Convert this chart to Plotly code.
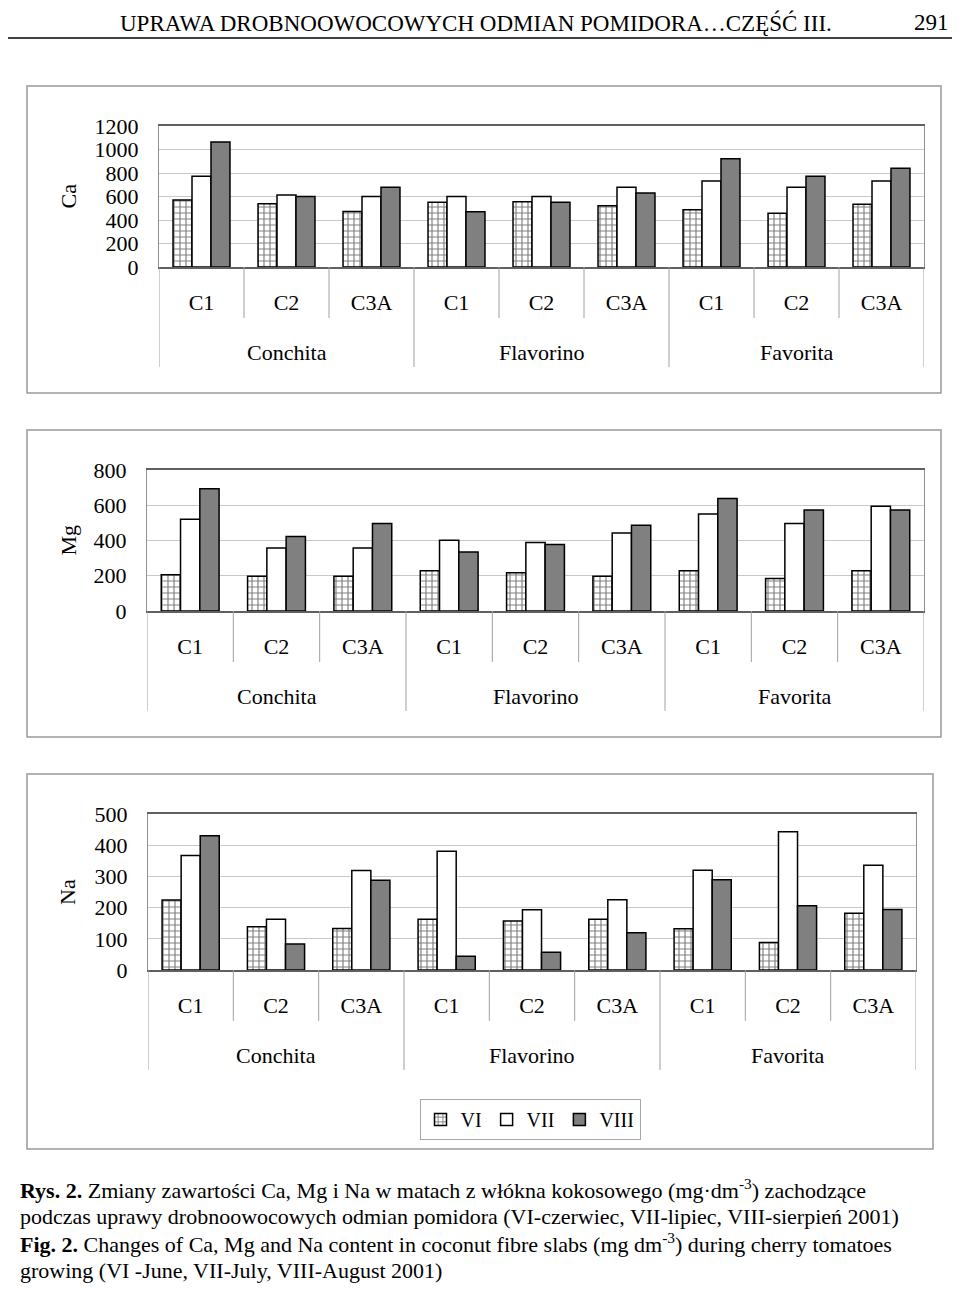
import plotly.graph_objects as go

# ---------------- data ----------------
groups = ["Conchita", "Flavorino", "Favorita"]
combos = ["C1", "C2", "C3A"]
months = ["VI", "VII", "VIII"]

ca_VI = [571, 538, 473, 552, 555, 521, 487, 457, 535]
ca_VII = [773, 613, 599, 599, 599, 678, 731, 678, 731]
ca_VIII = [1064, 599, 678, 471, 552, 630, 922, 773, 840]

mg_VI = [206, 197, 197, 229, 217, 197, 229, 185, 229]
mg_VII = [520, 357, 357, 401, 389, 442, 550, 497, 595]
mg_VIII = [693, 422, 497, 335, 378, 486, 639, 573, 573]

na_VI = [224, 139, 133, 163, 157, 163, 132, 88, 182]
na_VII = [367, 163, 319, 381, 193, 225, 320, 443, 336]
na_VIII = [430, 83, 288, 44, 57, 119, 289, 206, 194]

ca_ticks = [0, 200, 400, 600, 800, 1000, 1200]
mg_ticks = [0, 200, 400, 600, 800]
na_ticks = [0, 100, 200, 300, 400, 500]

header_text = "UPRAWA DROBNOOWOCOWYCH ODMIAN POMIDORA…CZĘŚĆ III."
page_no = "291"
caption_lines = [
    "<b>Rys. 2.</b> Zmiany zawartości Ca, Mg i Na w matach z włókna kokosowego (mg·dm<sup>-3</sup>) zachodzące",
    "podczas uprawy drobnoowocowych odmian pomidora (VI-czerwiec, VII-lipiec, VIII-sierpień 2001)",
    "<b>Fig. 2.</b> Changes of Ca, Mg and Na content in coconut fibre slabs (mg dm<sup>-3</sup>) during cherry tomatoes",
    "growing (VI -June, VII-July, VIII-August 2001)",
]

# ---------------- layout helpers ----------------
OFF = 8  # page body margin
W, H = 960 - 2 * OFF, 1292 - 2 * OFF
FONT = "Liberation Serif, Times New Roman, serif"


def px(x):
    return (x - OFF) / W


def py(y):
    return 1 - (y - OFF) / H


cat_labels = [c for g in groups for c in combos]
pos = list(range(len(cat_labels)))

panels = [
    # name, data, ticks, plot-area px (x0, x1, ytop, ybottom), box px (x0, x1, y0, y1), label x
    ("Ca", (ca_VI, ca_VII, ca_VIII), ca_ticks, (159, 924, 126, 267), (27, 941, 86, 393), 68),
    ("Mg", (mg_VI, mg_VII, mg_VIII), mg_ticks, (147, 924, 470, 611), (27, 941, 430, 737), 68),
    ("Na", (na_VI, na_VII, na_VIII), na_ticks, (148, 916, 814, 970), (27, 933, 774, 1149), 68),
]

styles = [
    dict(color="white", line=dict(color="black", width=1.5),
         pattern=dict(shape="+", fgcolor="black", bgcolor="white", size=6, solidity=0.35)),
    dict(color="white", line=dict(color="black", width=1.5)),
    dict(color="#808080", line=dict(color="black", width=1.5)),
]

fig = go.Figure()
shapes = []
annotations = []

for i, (name, series, ticks, area, box, lab_x) in enumerate(panels):
    sfx = "" if i == 0 else str(i + 1)
    xa, ya = "x" + sfx, "y" + sfx
    for m, vals, st in zip(months, series, styles):
        fig.add_trace(go.Bar(
            x=pos, y=vals, name=m, marker=st, xaxis=xa, yaxis=ya,
            showlegend=(i == 0), legendgroup=m,
        ))
    x0, x1, yt, yb = area
    fig.layout["xaxis" + sfx] = dict(
        domain=[px(x0), px(x1)], anchor=ya, range=[-0.5, len(pos) - 0.5],
        tickmode="array", tickvals=pos, ticktext=cat_labels,
        showgrid=False, zeroline=False, showline=True, mirror=True,
        linecolor="#606060", linewidth=1.5, ticks="", ticklabelstandoff=15,
        tickfont=dict(family=FONT, size=22, color="black"), automargin=False,
    )
    fig.layout["yaxis" + sfx] = dict(
        domain=[py(yb), py(yt)], anchor=xa, range=[ticks[0], ticks[-1]],
        tickmode="array", tickvals=ticks, showgrid=True, gridcolor="#c8c8c8",
        gridwidth=1, zeroline=False, showline=True, mirror=True,
        linecolor="#909090", linewidth=1, ticks="", ticklabelstandoff=15,
        tickfont=dict(family=FONT, size=22, color="black"), automargin=False,
    )
    # panel frame
    bx0, bx1, by0, by1 = box
    shapes.append(dict(type="rect", xref="paper", yref="paper",
                       x0=px(bx0), x1=px(bx1), y0=py(by1), y1=py(by0),
                       line=dict(color="#9a9a9a", width=1.5), fillcolor="rgba(0,0,0,0)"))
    # category dividers
    for k in range(len(pos) + 1):
        bnd = k - 0.5
        long_ = (k % len(combos) == 0)
        shapes.append(dict(type="line", xref=xa, yref="paper",
                           x0=bnd, x1=bnd, y0=py(yb), y1=py(yb + (100 if long_ else 51)),
                           line=dict(color="#a0a0a0", width=1)))
    # group labels
    for gi, g in enumerate(groups):
        annotations.append(dict(text=g, xref=xa, yref="paper",
                                x=gi * len(combos) + (len(combos) - 1) / 2, y=py(yb + 85),
                                showarrow=False, xanchor="center", yanchor="middle",
                                font=dict(family=FONT, size=22, color="black")))
    # element label
    annotations.append(dict(text=name, xref="paper", yref="paper",
                            x=px(lab_x), y=py((yt + yb) / 2), textangle=-90,
                            showarrow=False, xanchor="center", yanchor="middle",
                            font=dict(family=FONT, size=22, color="black")))

# header
annotations.append(dict(text=header_text, xref="paper", yref="paper", x=px(476), y=py(8),
                        showarrow=False, xanchor="center", yanchor="top",
                        font=dict(family=FONT, size=23, color="black")))
annotations.append(dict(text=page_no, xref="paper", yref="paper", x=px(951), y=py(8),
                        showarrow=False, xanchor="right", yanchor="top",
                        font=dict(family=FONT, size=23, color="black")))
shapes.append(dict(type="line", xref="paper", yref="paper", x0=px(8), x1=px(952),
                   y0=py(38), y1=py(38), line=dict(color="#404040", width=2)))

# caption
for yy, line in zip([1189, 1216, 1243, 1270], caption_lines):
    annotations.append(dict(text=line, xref="paper", yref="paper", x=px(18), y=py(yy),
                            showarrow=False, xanchor="left", yanchor="middle",
                            font=dict(family=FONT, size=22, color="black")))

fig.update_layout(
    width=W, height=H, autosize=False,
    margin=dict(l=0, r=0, t=0, b=0, pad=0, autoexpand=False),
    paper_bgcolor="white", plot_bgcolor="white",
    barmode="group", bargap=0.33, bargroupgap=0,
    shapes=shapes, annotations=annotations,
    font=dict(family=FONT, size=20, color="black"),
    legend=dict(orientation="h", x=px(530), xanchor="center", y=py(1099), yanchor="top",
                bordercolor="#a8a8a8", borderwidth=1, bgcolor="white",
                font=dict(family=FONT, size=20, color="black"),
                itemwidth=30, traceorder="normal"),
)

fig.write_html("out.html")
